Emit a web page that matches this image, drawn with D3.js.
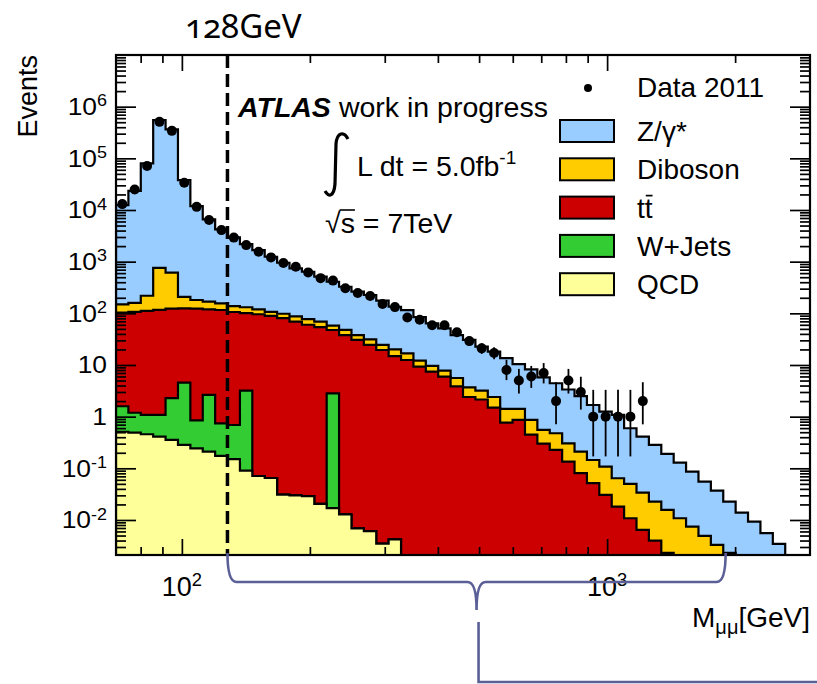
<!DOCTYPE html>
<html>
<head>
<meta charset="utf-8">
<script src="https://cdn.jsdelivr.net/npm/d3@7"></script>
<style>
  html, body { margin: 0; padding: 0; background: #fff; }
  svg { display: block; }
  text { font-family: "Liberation Sans", Arial, Helvetica, sans-serif; fill: #000; }
</style>
</head>
<body>
<svg id="chart" width="817" height="684"></svg>
<script>
// ---- binning of the dimuon mass spectrum (log-uniform bins) ----
const massMin = 70, massMax = 3000, nBins = 56;
const markerMass = 128;            // dashed reference line
const bracketMass = [128, 1900];   // span covered by the brace below the axis

// ---- expected events per bin, one array per process ----
const qcd = [0.51, 0.49, 0.456, 0.41, 0.354, 0.284, 0.244, 0.21, 0.174, 0.15, 0.09, 0.071, 0.065, 0.031, 0.030,
  0.029, 0.0205, 0.0169, 0.0128, 0.0069, 0.0061, 0.0035, 0.0042,
  0, 0, 0, 0, 0, 0, 0, 0, 0, 0, 0, 0, 0, 0, 0, 0, 0, 0, 0, 0, 0, 0, 0, 0, 0, 0, 0, 0, 0, 0, 0, 0, 0];
const wjets = [1.08, 0.70, 0.624, 0.67, 1.92, 4.27, 0.60, 2.42, 0.57, 0.54, 3.09, 0, 0, 0, 0, 0, 0, 2.81,
  0, 0, 0, 0, 0, 0, 0, 0, 0, 0, 0, 0, 0, 0, 0, 0, 0, 0, 0, 0, 0, 0, 0, 0, 0, 0, 0, 0, 0, 0, 0, 0, 0, 0, 0, 0, 0, 0];
const ttbar = [101.4, 105.8, 110.9, 115.9, 120.7, 120.4, 122.2, 116.4, 115.3, 105.3, 97.8, 95.9, 88.9, 81, 69,
  60, 54, 44.7, 38, 30.5, 24.4, 19.5, 14.9, 12.5, 9.27, 7.41, 5.94, 3.85, 2.4, 2.15, 1.5, 0.766, 0.863, 0.45,
  0.30, 0.227, 0.135, 0.0804, 0.0515, 0.0306, 0.0182, 0.0108, 0.00643, 0.0040, 0.0023,
  0, 0, 0, 0, 0, 0, 0, 0, 0, 0, 0];
const diboson = [46, 53, 107, 643, 488, 84, 58, 49, 40, 32, 30, 23, 18, 17, 18, 17, 15, 10.5, 10, 7.5, 7.0, 4.9,
  5.2, 4.3, 2.83, 2.16, 1.82, 1.75, 1.3, 1.05, 0.9, 0.654, 0.557, 0.413, 0.253, 0.25, 0.17, 0.13, 0.0935, 0.0774,
  0.0461, 0.0392, 0.0275, 0.0187, 0.0134, 0.0108, 0.00745, 0.00492, 0.0033, 0.0023, 0, 0, 0, 0, 0, 0];
const zgamma = [12250, 23340, 79380, 547200, 361400, 37590, 11720, 6410, 4050, 2810, 2060, 1556, 1138, 854, 655,
  561, 442, 350, 279, 224, 195, 151, 114, 99, 72, 54.4, 43.2, 32.4, 26.8, 19.4, 15.7, 12.1, 8.98, 7.39, 5.23,
  3.95, 3.05, 2.29, 1.535, 1.142, 1.016, 0.546, 0.376, 0.261, 0.174, 0.118, 0.0789, 0.0504, 0.0338, 0.0204,
  0.0139, 0.0093, 0.00555, 0.00345, 0, 0];

// ---- observed events (2011) ----
const data2011 = [13000, 25000, 71000, 508000, 340000, 33600, 11500, 6380, 4080, 2920, 2090, 1556, 1210, 945, 800,
  620, 480, 430, 306, 247, 216, 151, 132, 83, 75, 59, 59, 43, 29, 21, 17, 8, 5, 6, 7, 2, 5, 3, 1, 1, 1, 1, 2,
  null, null, null, null, null, null, null, null, null, null, null, null, null];
// error bars that reach beyond the marker
const errBins = [27, 28, 29, 30, 31, 32, 33, 34, 35, 36, 37, 38, 39, 40, 41, 42];
const errLow  = [36.6, 23.5, 16.4, 12.9, 5.1, 2.8, 3.6, 4.4, 0.71, 2.8, 1.37, 0.17, 0.17, 0.17, 0.17, 0.71];
const errHigh = [50.2, 35.3, 26.4, 22.0, 12.6, 8.4, 9.6, 10.9, 4.64, 8.4, 5.92, 3.3, 3.3, 3.3, 3.3, 4.64];

// ---- axis ticks ----
const yMajorExp = [-2, -1, 0, 1, 2, 3, 4, 5, 6];
const xMajorExp = [2, 3];

// ---- processes, bottom of the stack first ----
const processKeys   = ["qcd", "wjets", "ttbar", "diboson", "zgamma"];
const processLabels = ["QCD", "W+Jets", "tt", "Diboson", "Z/\u03b3*"];
const processColors = ["#ffff99", "#33cc33", "#cc0000", "#ffcc00", "#99ccff"];

// ================= drawing =================
const svg = d3.select("#chart");
const frame = { left: 116, top: 55, right: 810, bottom: 555 };
const yMin = 0.0021, yMax = 1e7;

const x = d3.scaleLog().domain([massMin, massMax]).range([frame.left, frame.right]);
const y = d3.scaleLog().domain([yMin, yMax]).range([frame.bottom, frame.top]);

const edges = d3.range(nBins + 1).map(i => massMin * Math.pow(massMax / massMin, i / nBins));
const centers = d3.range(nBins).map(i => (edges[i] + edges[i + 1]) / 2);

const seriesByKey = { qcd, wjets, ttbar, diboson, zgamma };
const rows = d3.range(nBins).map(i => {
  const r = { bin: i };
  processKeys.forEach(k => { r[k] = seriesByKey[k][i]; });
  return r;
});
const stacked = d3.stack().keys(processKeys)(rows);

svg.append("defs").append("clipPath").attr("id", "plotClip")
  .append("rect")
  .attr("x", frame.left).attr("y", frame.top)
  .attr("width", frame.right - frame.left).attr("height", frame.bottom - frame.top);

const yc = v => (v > yMin ? y(v) : frame.bottom + 6);
function stepPath(tops) {
  let p = `M${x(edges[0])},${frame.bottom + 6}`;
  tops.forEach((v, i) => {
    p += `L${x(edges[i])},${yc(v)}L${x(edges[i + 1])},${yc(v)}`;
  });
  p += `L${x(edges[nBins])},${frame.bottom + 6}Z`;
  return p;
}

// cumulative histograms, largest first so each lower layer sits on top
const histG = svg.append("g").attr("clip-path", "url(#plotClip)");
stacked.slice().reverse().forEach(layer => {
  const idx = processKeys.indexOf(layer.key);
  histG.append("path")
    .attr("d", stepPath(layer.map(d => d[1])))
    .attr("fill", processColors[idx])
    .attr("stroke", "#000")
    .attr("stroke-width", 2.2)
    .attr("stroke-linejoin", "miter");
});

// ---- ticks (ROOT style, inside the frame on all four sides) ----
const yMajor = yMajorExp.map(e => Math.pow(10, e));
const yMinor = [];
for (let e = -3; e <= 6; e++) for (let m = 2; m <= 9; m++) {
  const v = m * Math.pow(10, e);
  if (v > yMin && v < yMax) yMinor.push(v);
}
const xMajor = xMajorExp.map(e => Math.pow(10, e));
const xMinor = [];
for (let e = 1; e <= 3; e++) for (let m = 2; m <= 9; m++) {
  const v = m * Math.pow(10, e);
  if (v > massMin && v < massMax) xMinor.push(v);
}

function tickAxis(axisGen, tx, ty) {
  const g = svg.append("g").attr("transform", `translate(${tx},${ty})`).call(axisGen);
  g.select(".domain").remove();
  g.selectAll(".tick line").attr("stroke", "#000").attr("stroke-width", 1.7);
  g.selectAll(".tick text").remove();
  return g;
}
tickAxis(d3.axisLeft(y).tickValues(yMajor).tickSize(-20).tickFormat(""), frame.left, 0);
tickAxis(d3.axisLeft(y).tickValues(yMinor).tickSize(-10).tickFormat(""), frame.left, 0);
tickAxis(d3.axisRight(y).tickValues(yMajor).tickSize(-20).tickFormat(""), frame.right, 0);
tickAxis(d3.axisRight(y).tickValues(yMinor).tickSize(-10).tickFormat(""), frame.right, 0);
tickAxis(d3.axisBottom(x).tickValues(xMajor).tickSize(-16).tickFormat(""), 0, frame.bottom);
tickAxis(d3.axisBottom(x).tickValues(xMinor).tickSize(-8).tickFormat(""), 0, frame.bottom);
tickAxis(d3.axisTop(x).tickValues(xMajor).tickSize(-16).tickFormat(""), 0, frame.top);
tickAxis(d3.axisTop(x).tickValues(xMinor).tickSize(-8).tickFormat(""), 0, frame.top);

// frame
svg.append("rect")
  .attr("x", frame.left).attr("y", frame.top)
  .attr("width", frame.right - frame.left).attr("height", frame.bottom - frame.top)
  .attr("fill", "none").attr("stroke", "#000").attr("stroke-width", 2.2);

// ---- power-of-ten labels ----
function powerText(sel, e) {
  if (e === 0) { sel.text("1"); return; }
  if (e === 1) { sel.text("10"); return; }
  sel.append("tspan").text("10");
  sel.append("tspan").attr("dy", "-0.55em").attr("font-size", "0.68em").text(String(e));
}
yMajorExp.forEach(e => {
  const t = svg.append("text")
    .attr("transform", `translate(107,${y(Math.pow(10, e)) + 8.5}) scale(1.1,1)`)
    .attr("text-anchor", "end")
    .attr("font-size", 24);
  powerText(t, e);
});
xMajorExp.forEach(e => {
  const t = svg.append("text")
    .attr("x", x(Math.pow(10, e))).attr("y", 596)
    .attr("text-anchor", "middle")
    .attr("font-size", 27);
  powerText(t, e);
});

// axis titles
svg.append("text")
  .attr("transform", `translate(37,${frame.top}) rotate(-90)`)
  .attr("text-anchor", "end")
  .attr("font-size", 27)
  .text("Events");

const xt = svg.append("text").attr("x", frame.right).attr("y", 627)
  .attr("text-anchor", "end").attr("font-size", 28);
xt.append("tspan").text("M");
xt.append("tspan").attr("dy", 7).attr("font-size", 20).text("\u03bc\u03bc");
xt.append("tspan").attr("dy", -7).text("[GeV]");

// ---- dashed reference line ----
svg.append("line")
  .attr("x1", x(markerMass)).attr("x2", x(markerMass))
  .attr("y1", frame.top).attr("y2", frame.bottom)
  .attr("stroke", "#000").attr("stroke-width", 3.5)
  .attr("stroke-dasharray", "13,6");

svg.append("text")
  .attr("x", 185).attr("y", 38)
  .attr("font-size", 33)
  .style("font-family", "'Noto Sans', 'Open Sans', sans-serif")
  .style("font-variant-numeric", "oldstyle-nums")
  .style("font-feature-settings", "'onum' 1")
  .attr("fill", "#111")
  .text(`${markerMass}GeV`);

// ---- observed data ----
const dataG = svg.append("g").attr("clip-path", "url(#plotClip)");
errBins.forEach((b, i) => {
  dataG.append("line")
    .attr("x1", x(centers[b])).attr("x2", x(centers[b]))
    .attr("y1", y(errLow[i])).attr("y2", y(errHigh[i]))
    .attr("stroke", "#000").attr("stroke-width", 1.8);
});
dataG.selectAll("circle.pt")
  .data(data2011.map((v, i) => ({ v, i })).filter(d => d.v !== null))
  .join("circle")
  .attr("class", "pt")
  .attr("cx", d => x(centers[d.i]))
  .attr("cy", d => y(d.v))
  .attr("r", 5)
  .attr("fill", "#000");

// ---- experiment label ----
const atlas = svg.append("text").attr("x", 238).attr("y", 117).attr("font-size", 28.5);
atlas.append("tspan").attr("font-weight", "bold").attr("font-style", "italic").text("ATLAS");
atlas.append("tspan").attr("dx", 8).text("work in progress");

svg.append("path")
  .attr("d", "M348,139 C344,131 337,132 336,144 L335,184 C334,196 329,198 325,191")
  .attr("fill", "none").attr("stroke", "#000").attr("stroke-width", 3.2);
const lumi = svg.append("text").attr("x", 357).attr("y", 176).attr("font-size", 28.5);
lumi.append("tspan").text("L dt = 5.0fb");
lumi.append("tspan").attr("dy", -12).attr("font-size", 19).text("-1");

const rs = svg.append("text").attr("x", 325).attr("y", 233).attr("font-size", 28.5);
rs.append("tspan").text("\u221a");
rs.append("tspan").text("s");
rs.append("tspan").text(" = 7TeV");
{
  const node = rs.node();
  const x0 = node.getStartPositionOfChar(1).x, x1 = node.getEndPositionOfChar(1).x;
  svg.append("line").attr("x1", x0 - 1).attr("x2", x1).attr("y1", 210).attr("y2", 210)
    .attr("stroke", "#000").attr("stroke-width", 1.6);
}

// ---- legend ----
const leg = svg.append("g");
leg.append("circle").attr("cx", 588).attr("cy", 88).attr("r", 4).attr("fill", "#000");
leg.append("text").attr("x", 637).attr("y", 97).attr("font-size", 28).text("Data 2011");
processKeys.slice().reverse().forEach((k, j) => {
  const idx = processKeys.indexOf(k);
  const base = 141 + j * 38.3;
  leg.append("rect")
    .attr("x", 560).attr("y", base - 21).attr("width", 54).attr("height", 22)
    .attr("fill", processColors[idx]).attr("stroke", "#000").attr("stroke-width", 2);
  const t = leg.append("text").attr("x", 637).attr("y", base).attr("font-size", 28).text(processLabels[idx]);
  if (k === "ttbar") {
    const node = t.node();
    const a = node.getStartPositionOfChar(1).x, b = node.getEndPositionOfChar(1).x;
    leg.append("line").attr("x1", a + 1).attr("x2", b).attr("y1", base - 22).attr("y2", base - 22)
      .attr("stroke", "#000").attr("stroke-width", 1.7);
  }
});

// ---- brace marking the mass window ----
const bl = x(bracketMass[0]), br = x(bracketMass[1]), bm = (bl + br) / 2;
const by0 = frame.bottom - 2, by1 = 582, byTip = 610;
svg.append("path")
  .attr("d", `M${bl},${by0} Q${bl},${by1} ${bl + 9},${by1} L${bm - 9},${by1} Q${bm},${by1} ${bm},${byTip}` +
             ` Q${bm},${by1} ${bm + 9},${by1} L${br - 9},${by1} Q${br},${by1} ${br},${by0}`)
  .attr("fill", "none").attr("stroke", "#5b5f97").attr("stroke-width", 2.6);
svg.append("path")
  .attr("d", `M${bm + 2},622 L${bm + 2},682 L817,682`)
  .attr("fill", "none").attr("stroke", "#5b5f97").attr("stroke-width", 2.6);
</script>
</body>
</html>
